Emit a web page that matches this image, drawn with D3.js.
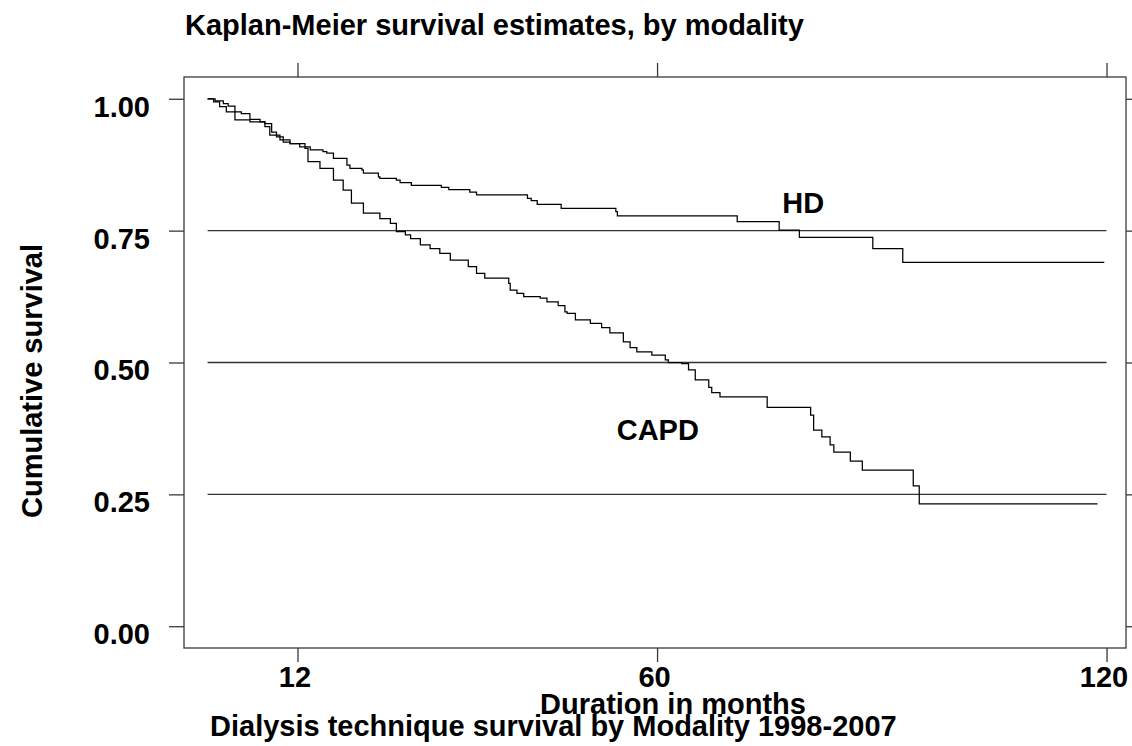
<!DOCTYPE html>
<html>
<head>
<meta charset="utf-8">
<script src="https://cdn.jsdelivr.net/npm/d3@7"></script>
<style>
  html, body { margin: 0; padding: 0; background: #fff; }
  svg text { font-family: "Liberation Sans", Arial, Helvetica, sans-serif; font-weight: bold; fill: #000; }
</style>
</head>
<body>
<svg id="chart" width="1132" height="746"></svg>
<script>
// ---- data ----
const titleText = "Kaplan-Meier survival estimates, by modality";
const xTitle = "Duration in months";
const yTitle = "Cumulative survival";
const subtitle = "Dialysis technique survival by Modality 1998-2007";
const xTicks = [12, 60, 120];
const yTicks = [0, 0.25, 0.5, 0.75, 1];
const refLines = [0.25, 0.5, 0.75];
const refLineEnd = 120;

const hdTime = [0, 1.0, 2.1, 2.75, 3.65, 4.5, 5.65, 7.0, 7.65, 8.55, 9.2, 10.1, 11.0, 12.3, 13.7, 15.4, 15.9, 16.8, 18.6, 19.0, 20.6, 20.8, 22.8, 23.0, 25.2, 25.7, 27.2, 31.2, 32.2, 35.0, 35.9, 42.7, 43.2, 44.0, 47.2, 54.5, 54.7, 70.7, 76.3, 79.0, 88.8, 92.8, 119.7];
const hdSurv = [1.0, 0.996, 0.991, 0.986, 0.975, 0.972, 0.961, 0.956, 0.953, 0.937, 0.928, 0.918, 0.915, 0.909, 0.903, 0.900, 0.897, 0.887, 0.874, 0.868, 0.865, 0.859, 0.852, 0.849, 0.846, 0.841, 0.836, 0.832, 0.828, 0.823, 0.818, 0.811, 0.807, 0.800, 0.792, 0.786, 0.778, 0.767, 0.751, 0.737, 0.716, 0.690, 0.690];

const capdTime = [0, 0.8, 1.6, 2.5, 3.65, 5.65, 7.65, 8.3, 9.66, 11.0, 13.0, 13.4, 15.0, 16.8, 18.1, 19.2, 20.8, 23.0, 24.4, 25.2, 26.4, 27.1, 28.4, 29.7, 31.0, 32.4, 34.8, 35.9, 37.0, 40.2, 40.4, 41.3, 42.2, 44.4, 45.3, 46.8, 47.7, 48.0, 49.1, 51.1, 52.6, 53.7, 55.5, 56.4, 57.3, 59.3, 61.1, 61.5, 63.3, 64.2, 65.1, 66.9, 67.3, 68.4, 74.7, 80.5, 80.9, 82.0, 83.1, 83.6, 85.8, 87.4, 94.2, 95.0, 118.8];
const capdSurv = [1.0, 0.994, 0.985, 0.975, 0.960, 0.956, 0.947, 0.931, 0.922, 0.915, 0.906, 0.881, 0.868, 0.846, 0.827, 0.802, 0.783, 0.773, 0.764, 0.748, 0.742, 0.735, 0.723, 0.716, 0.707, 0.694, 0.682, 0.669, 0.660, 0.650, 0.637, 0.631, 0.625, 0.622, 0.615, 0.608, 0.596, 0.593, 0.581, 0.574, 0.566, 0.556, 0.539, 0.528, 0.520, 0.514, 0.505, 0.500, 0.498, 0.486, 0.467, 0.453, 0.443, 0.435, 0.415, 0.400, 0.372, 0.359, 0.344, 0.330, 0.313, 0.296, 0.266, 0.232, 0.232];

const seriesLabels = ["HD", "CAPD"];
const labelTime = [79.5, 60.1];
const labelSurv = [0.783, 0.353];

// ---- layout ----
const svg = d3.select("#chart");
const L = 184, R = 1126, T = 77, B = 648;
const FS = 29;

const x = d3.scaleLinear().domain([-3.15, 122.6]).range([L, R]);
const y = d3.scaleLinear().domain([-0.0413, 1.0413]).range([B, T]);

const axisColor = "#3a3a3a";

// frame
svg.append("rect").attr("x", L).attr("y", T).attr("width", R - L).attr("height", B - T)
  .attr("fill", "none").attr("stroke", axisColor).attr("stroke-width", 1.3);

// left axis
const gL = svg.append("g").attr("transform", `translate(${L},0)`)
  .call(d3.axisLeft(y).tickValues(yTicks).tickSize(15).tickPadding(19).tickFormat(d3.format(".2f")));
// right axis
const gR = svg.append("g").attr("transform", `translate(${R},0)`)
  .call(d3.axisRight(y).tickValues(yTicks).tickSize(6).tickFormat(""));
// bottom axis
const gB = svg.append("g").attr("transform", `translate(0,${B})`)
  .call(d3.axisBottom(x).tickValues(xTicks).tickSize(14).tickPadding(6));
// top axis
const gT = svg.append("g").attr("transform", `translate(0,${T})`)
  .call(d3.axisTop(x).tickValues(xTicks).tickSize(14).tickFormat(""));

[gL, gR, gB, gT].forEach(g => {
  g.select(".domain").remove();
  g.selectAll(".tick line").attr("stroke", axisColor).attr("stroke-width", 1.3);
  g.selectAll("text").attr("font-size", FS).attr("font-family", null).attr("fill", "#000");
});
gL.selectAll("text").attr("dy", "0.6em");
gB.selectAll("text").attr("dy", null).attr("y", 39).attr("x", -3);

// reference lines
svg.append("g").selectAll("line").data(refLines).join("line")
  .attr("x1", x(0)).attr("x2", x(refLineEnd))
  .attr("y1", d => y(d)).attr("y2", d => y(d))
  .attr("stroke", "#333").attr("stroke-width", 1.3);

// curves
const line = d3.line().x(d => x(d[0])).y(d => y(d[1])).curve(d3.curveStepAfter);
const hd = hdTime.map((t, i) => [t, hdSurv[i]]);
const capd = capdTime.map((t, i) => [t, capdSurv[i]]);
[hd, capd].forEach(s => {
  svg.append("path").datum(s).attr("d", line)
    .attr("fill", "none").attr("stroke", "#000").attr("stroke-width", 1.25);
});

// series labels
svg.append("g").selectAll("text").data(seriesLabels).join("text")
  .attr("x", (d, i) => x(labelTime[i])).attr("y", (d, i) => y(labelSurv[i]))
  .attr("text-anchor", "middle").attr("font-size", FS).text(d => d);

// titles
svg.append("text").attr("x", 185).attr("y", 35).attr("font-size", FS).text(titleText);
svg.append("text").attr("x", 673).attr("y", 714).attr("text-anchor", "middle").attr("font-size", FS).text(xTitle);
svg.append("text").attr("x", 210).attr("y", 736).attr("font-size", FS).text(subtitle);
svg.append("text").attr("transform", "translate(42,381) rotate(-90)")
  .attr("text-anchor", "middle").attr("font-size", FS).text(yTitle);
</script>
</body>
</html>
